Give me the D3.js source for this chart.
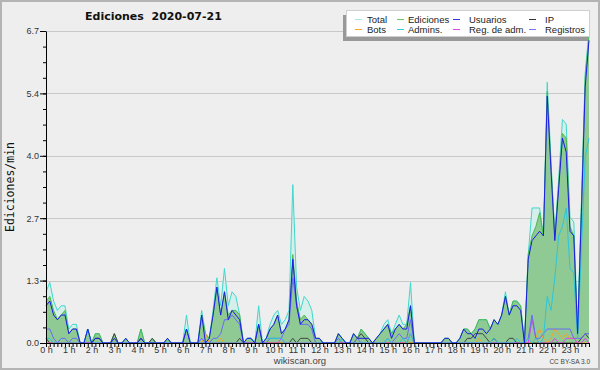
<!DOCTYPE html>
<meta charset="utf-8">
<style>
body { margin: 0; background: #fff; }
svg { display: block; font-family: "Liberation Sans", Arial, sans-serif; }
.grid line { stroke: #c8c8c8; stroke-width: 1px; }
.axis path, .axis line { stroke: #000; }
.axis text { fill: #333; font-size: 9px; font-family: "Liberation Sans", Arial, sans-serif; }
.series { fill: none; stroke-width: 1px; stroke-linejoin: round; }
</style>
<svg width="600" height="370"></svg>
<script src="https://cdn.jsdelivr.net/npm/d3@7"></script>
<script>

// one value every 10 minutes, 144 per day (edits per minute)
var hourLabels = ["0 h","1 h","2 h","3 h","4 h","5 h","6 h","7 h","8 h","9 h","10 h","11 h",
                  "12 h","13 h","14 h","15 h","16 h","17 h","18 h","19 h","20 h","21 h","22 h","23 h"];
var yTicks = [0, 1.34, 2.68, 4.02, 5.36, 6.7];
var yTickLabels = ["0.0", "1.3", "2.7", "4.0", "5.4", "6.7"];
var seriesNames = ["Total", "Ediciones", "Usuarios", "IP", "Bots", "Admins.", "Reg. de adm.", "Registros"];

var total = [
  1.1, 1.3, 0.9, 0.7, 0.8, 0.8,   0.3, 0.4, 0.4, 0, 0, 0.3,
  0, 0.2, 0.2, 0, 0, 0,           0.2, 0, 0, 0.1, 0, 0,
  0, 0.3, 0, 0, 0.1, 0,           0, 0, 0.1, 0, 0, 0,
  0, 0.6, 0, 0, 0, 0.7,           0.2, 0.1, 0.7, 1.4, 0.8, 1.6,
  0.8, 1.1, 1.0, 0.6, 0, 0.1,     0.1, 0, 0.8, 0, 0.1, 0.4,
  0.6, 0.7, 0.4, 0.5, 0.7, 3.4,   1.2, 0.7, 1.0, 0.9, 0.7, 0.1,
  0.1, 0, 0, 0, 0, 0.2,           0.1, 0, 0, 0.2, 0.1, 0.3,
  0.2, 0.1, 0, 0.1, 0.2, 0.4,     0.5, 0.2, 0.4, 0.6, 0.4, 0.4,
  1.3, 0, 0, 0, 0, 0,             0, 0, 0, 0.1, 0.1, 0,
  0, 0.1, 0.3, 0.3, 0.2, 0.3,     0.5, 0.5, 0.5, 0.3, 0.5, 0.4,
  0.6, 1.1, 0.6, 0.9, 0.9, 0.8,   0, 1.9, 2.9, 2.9, 2.9, 2.3,
  5.6, 3.9, 2.3, 3.5, 4.8, 4.7,   2.7, 2.6, 0.3, 3.0, 5.8, 6.7
];
var edits = [
  0.9, 1.0, 0.7, 0.5, 0.6, 0.7,   0.2, 0.3, 0.3, 0, 0, 0.3,
  0, 0.2, 0.2, 0, 0, 0,           0.2, 0, 0, 0.1, 0, 0,
  0, 0.3, 0, 0, 0.1, 0,           0, 0, 0.1, 0, 0, 0,
  0, 0.3, 0, 0, 0, 0.6,           0.2, 0.1, 0.6, 1.2, 0.6, 1.1,
  0.6, 0.7, 0.7, 0.6, 0, 0.1,     0.1, 0, 0.4, 0, 0.1, 0.3,
  0.4, 0.6, 0.2, 0.3, 0.5, 1.9,   0.9, 0.5, 0.6, 0.5, 0.4, 0.1,
  0.1, 0, 0, 0, 0, 0.2,           0.1, 0, 0, 0.2, 0.1, 0.3,
  0.2, 0.1, 0, 0.1, 0.2, 0.3,     0.4, 0.2, 0.3, 0.4, 0.3, 0.4,
  0.8, 0, 0, 0, 0, 0,             0, 0, 0, 0.1, 0.1, 0,
  0, 0.1, 0.3, 0.3, 0.2, 0.3,     0.5, 0.5, 0.5, 0.3, 0.5, 0.4,
  0.6, 1.0, 0.6, 0.9, 0.9, 0.8,   0, 1.9, 2.3, 2.5, 2.8, 2.3,
  5.4, 3.8, 2.3, 3.4, 4.5, 4.4,   2.5, 2.3, 0.2, 2.9, 5.7, 6.6
];
var users = [
  0.8, 0.9, 0.6, 0.5, 0.6, 0.6,   0.2, 0.3, 0.3, 0, 0, 0.3,
  0, 0.1, 0.1, 0, 0, 0,           0.1, 0, 0, 0.1, 0, 0,
  0, 0.1, 0, 0, 0, 0,             0, 0, 0.1, 0, 0, 0,
  0, 0.3, 0, 0, 0, 0.6,           0, 0.1, 0.6, 1.2, 0.6, 1.1,
  0.5, 0.7, 0.6, 0.5, 0, 0.1,     0.1, 0, 0.4, 0, 0.1, 0.3,
  0.4, 0.6, 0.2, 0.3, 0.5, 1.8,   0.8, 0.4, 0.5, 0.5, 0.4, 0.1,
  0.1, 0, 0, 0, 0, 0.2,           0.1, 0, 0, 0.2, 0.1, 0.1,
  0.1, 0.1, 0, 0.1, 0.2, 0.3,     0.4, 0.1, 0.3, 0.4, 0.3, 0.3,
  0.8, 0, 0, 0, 0, 0,             0, 0, 0, 0.1, 0.1, 0,
  0, 0.1, 0.3, 0.2, 0.2, 0.1,     0.3, 0.3, 0.2, 0.3, 0.5, 0.4,
  0.6, 1.0, 0.6, 0.8, 0.8, 0.7,   0, 1.8, 2.2, 2.3, 2.4, 2.3,
  5.3, 3.7, 2.2, 3.3, 4.4, 4.1,   2.4, 2.3, 0.2, 2.8, 5.5, 6.5
];
var ip = [
  0.1, 0, 0, 0, 0, 0,   0, 0, 0, 0, 0, 0,
  0, 0.1, 0.1, 0, 0, 0, 0.2, 0, 0, 0, 0, 0,
  0, 0.1, 0, 0, 0.1, 0, 0, 0, 0, 0, 0, 0,
  0, 0, 0, 0, 0, 0,     0, 0, 0, 0, 0, 0,
  0, 0, 0, 0.1, 0, 0,   0, 0, 0, 0, 0, 0,
  0, 0, 0, 0, 0, 0.1,   0, 0.1, 0.1, 0.1, 0, 0,
  0, 0, 0, 0, 0, 0,     0, 0, 0, 0, 0.1, 0.2,
  0.1, 0, 0, 0, 0, 0,   0, 0, 0, 0, 0, 0,
  0, 0, 0, 0, 0, 0,     0, 0, 0, 0, 0, 0,
  0, 0, 0, 0.1, 0.1, 0.2, 0.2, 0.2, 0.1, 0, 0.1, 0,
  0, 0, 0.1, 0.1, 0, 0, 0, 0, 0, 0, 0, 0,
  0, 0, 0, 0, 0, 0,     0, 0, 0, 0.1, 0.2, 0.1
];
var bots = [
  0, 0, 0, 0, 0, 0,     0, 0, 0, 0, 0, 0,
  0, 0, 0, 0, 0, 0,     0, 0, 0, 0, 0, 0,
  0, 0, 0, 0, 0, 0,     0, 0, 0, 0, 0, 0,
  0, 0, 0, 0, 0, 0,     0.2, 0, 0, 0, 0.1, 0,
  0, 0, 0, 0, 0, 0,     0, 0, 0, 0, 0, 0,
  0, 0, 0, 0, 0, 0,     0, 0, 0, 0, 0, 0,
  0, 0, 0, 0, 0, 0,     0, 0, 0, 0, 0, 0,
  0, 0, 0, 0, 0, 0,     0, 0, 0, 0, 0, 0,
  0, 0, 0, 0, 0, 0,     0, 0, 0, 0, 0, 0,
  0, 0, 0, 0, 0, 0,     0.1, 0, 0, 0, 0, 0,
  0, 0, 0, 0, 0, 0,     0, 0, 0, 0.1, 0.3, 0.1,
  0, 0.1, 0.3, 0.2, 0.1, 0.2,   0.1, 0.1, 0, 0, 0, 0
];
var admins = [
  0.1, 0.1, 0, 0, 0, 0, 0, 0, 0, 0, 0, 0.3,
  0, 0, 0, 0, 0, 0,     0, 0, 0, 0, 0, 0,
  0, 0, 0, 0, 0, 0,     0, 0, 0, 0, 0, 0,
  0, 0, 0, 0, 0, 0,     0, 0, 0, 0, 0, 0,
  0, 0, 0, 0, 0, 0.1,   0.1, 0, 0, 0, 0.1, 0.1,
  0.1, 0.1, 0.1, 0, 0, 0, 0, 0, 0, 0, 0, 0,
  0, 0, 0, 0, 0, 0,     0.1, 0, 0, 0, 0, 0,
  0, 0, 0, 0, 0, 0,     0.1, 0, 0, 0, 0.1, 0,
  0.2, 0, 0, 0, 0, 0,   0, 0, 0, 0, 0, 0,
  0, 0, 0, 0, 0, 0,     0, 0, 0, 0, 0.1, 0,
  0, 0, 0, 0, 0.1, 0,   0, 0.1, 0, 0.1, 0, 0.1,
  1.0, 0.7, 1.4, 2.3, 2.5, 2.9,  1.6, 1.5, 0.1, 2.0, 4.0, 4.4
];
var regAdm = [
  0, 0, 0, 0, 0, 0,     0, 0, 0, 0, 0, 0,
  0, 0, 0, 0, 0, 0,     0, 0, 0, 0, 0, 0,
  0, 0, 0, 0, 0, 0,     0, 0, 0, 0, 0, 0,
  0, 0, 0, 0, 0, 0,     0, 0, 0, 0, 0, 0,
  0, 0, 0, 0, 0, 0,     0, 0, 0, 0, 0, 0,
  0, 0, 0.1, 0, 0, 0,   0, 0, 0, 0, 0, 0,
  0, 0, 0, 0, 0, 0,     0, 0, 0, 0, 0, 0,
  0, 0, 0, 0, 0, 0,     0, 0, 0, 0, 0, 0,
  0.2, 0, 0, 0, 0, 0,   0, 0, 0, 0, 0, 0,
  0, 0, 0, 0, 0, 0,     0, 0, 0, 0, 0, 0,
  0, 0, 0, 0, 0, 0,     0, 0, 0.5, 0.1, 0, 0,
  0, 0, 0.1, 0, 0, 0.1, 0.1, 0.1, 0, 0, 0.1, 0
];
var logs = [
  0.3, 0.3, 0.1, 0, 0.1, 0.1,   0, 0.1, 0.1, 0, 0, 0,
  0, 0, 0, 0, 0, 0,     0, 0, 0, 0, 0, 0,
  0, 0, 0, 0, 0, 0,     0, 0, 0, 0, 0, 0,
  0, 0.3, 0, 0, 0, 0.1, 0, 0, 0.1, 0.1, 0.2, 0.5,
  0.5, 0.6, 0.5, 0.4, 0, 0,     0, 0, 0.4, 0, 0, 0.1,
  0.1, 0.1, 0.1, 0.3, 0.4, 1.4, 0.8, 0.4, 0.4, 0.4, 0.3, 0,
  0, 0, 0, 0, 0, 0.1,   0, 0, 0, 0, 0.1, 0,
  0, 0, 0, 0, 0, 0,     0.1, 0, 0.1, 0.2, 0.1, 0.1,
  0.5, 0, 0, 0, 0, 0,   0, 0, 0, 0, 0, 0,
  0, 0, 0, 0, 0, 0,     0, 0, 0, 0, 0, 0,
  0, 0, 0, 0, 0, 0,     0, 0.1, 0.6, 0.1, 0.1, 0.2,
  0.3, 0.3, 0.3, 0.3, 0.3, 0.3, 0.3, 0.1, 0.1, 0.1, 0.2, 0.2
];

var lineColors   = ["#3fd8cc", "#4cb84c", "#1c1ce6", "#444444", "#ffa020", "#2cc6dc", "#dd40ee", "#6a6af8"];
var legendColors = ["#a8e8e4", "#66cc66", "#3333ee", "#333333", "#ffa31a", "#33ccdd", "#dd44ee", "#7777ff"];

var svg = d3.select("svg"),
    width = +svg.attr("width"),
    height = +svg.attr("height");

var plotLeft = 46, plotRight = 589, plotTop = 31, plotBottom = 343;

var x = d3.scaleLinear().domain([0, total.length - 1]).range([plotLeft, plotRight]);
var y = d3.scaleLinear().domain([0, 6.7]).range([plotBottom, plotTop]);

// background + frame
svg.append("rect").attr("width", width).attr("height", height).attr("fill", "#eeeeee");
svg.append("rect").attr("x", 1).attr("y", 1).attr("width", width - 2).attr("height", height - 2)
    .attr("fill", "none").attr("stroke", "#b4b4b4").attr("stroke-width", 2);

// grid
svg.append("g").attr("class", "grid")
  .selectAll("line").data(yTicks.slice(1)).enter().append("line")
    .attr("x1", plotLeft).attr("x2", plotRight)
    .attr("y1", function(d) { return Math.round(y(d)) + 0.5; })
    .attr("y2", function(d) { return Math.round(y(d)) + 0.5; });

// areas
var area = function(vals) {
  return d3.area().x(function(d, i) { return x(i); }).y0(y(0)).y1(function(d) { return y(d); })(vals);
};
svg.append("path").attr("d", area(total)).attr("fill", "#d5efeb");
svg.append("path").attr("d", area(edits)).attr("fill", "#8fc993");

// lines
var line = d3.line().x(function(d, i) { return x(i); }).y(function(d) { return y(d); });
var series = [total, edits, users, ip, bots, admins, regAdm, logs];
var order = [0, 1, 3, 4, 6, 7, 5, 2];
order.forEach(function(k) {
  svg.append("path")
      .attr("class", "series")
      .attr("d", line(series[k]))
      .attr("stroke", lineColors[k])
      .attr("stroke-width", k === 2 ? 1.4 : 1);
});

// axes
var xAxis = d3.axisBottom(x)
    .tickValues(d3.range(total.length))
    .tickSize(4).tickSizeOuter(0).tickPadding(0)
    .tickFormat(function(i) { return i % 6 ? "" : hourLabels[i / 6]; });
svg.append("g").attr("class", "axis")
    .attr("transform", "translate(0," + plotBottom + ")")
    .call(xAxis);

var yAxis = d3.axisLeft(y)
    .tickValues(yTicks)
    .tickSize(6).tickSizeOuter(0).tickPadding(1)
    .tickFormat(function(d, i) { return yTickLabels[i]; });
svg.append("g").attr("class", "axis")
    .attr("transform", "translate(" + plotLeft + ",0)")
    .call(yAxis);

svg.append("g").attr("class", "axis")
    .attr("transform", "translate(" + plotLeft + ",0)")
    .call(d3.axisLeft(y).tickValues(d3.range(0, 21).map(function(k) { return k * 0.335; }))
      .tickSize(3).tickSizeOuter(0).tickFormat(""))
    .select(".domain").remove();

// titles
svg.append("text")
    .attr("x", 85).attr("y", 20)
    .attr("font-family", "DejaVu Sans").attr("font-weight", "bold").attr("font-size", 11)
    .attr("fill", "#111")
    .style("white-space", "pre")
    .text("Ediciones  2020-07-21");

svg.append("text")
    .attr("transform", "translate(14," + ((plotTop + plotBottom) / 2) + ") rotate(-90)")
    .attr("text-anchor", "middle")
    .attr("font-family", "DejaVu Sans Mono").attr("font-size", 11.5)
    .attr("fill", "#111")
    .text("Ediciones/min");

svg.append("text")
    .attr("x", 300).attr("y", 364).attr("text-anchor", "middle")
    .attr("font-size", 9.5).attr("fill", "#444")
    .text("wikiscan.org");

svg.append("text")
    .attr("x", 590).attr("y", 364).attr("text-anchor", "end")
    .attr("font-size", 6.5).attr("fill", "#444")
    .text("CC BY-SA 3.0");

// legend
var legendCols = [{line: 355, text: 367}, {line: 397, text: 408}, {line: 453, text: 469}, {line: 529, text: 545}];
var legendRows = [19.5, 29.5];
svg.append("rect").attr("x", 343).attr("y", 15).attr("width", 245).attr("height", 26).attr("fill", "#999");
svg.append("rect").attr("x", 346.5).attr("y", 10.5).attr("width", 243).attr("height", 26)
    .attr("fill", "#fff").attr("stroke", "#cfcfcf");

var items = svg.append("g").selectAll("g").data(seriesNames).enter().append("g")
    .attr("transform", function(d, i) {
      return "translate(0," + legendRows[Math.floor(i / 4)] + ")";
    });
items.append("line")
    .attr("x1", function(d, i) { return legendCols[i % 4].line; })
    .attr("x2", function(d, i) { return legendCols[i % 4].line + 7; })
    .attr("stroke", function(d, i) { return legendColors[i]; });
items.append("text")
    .attr("x", function(d, i) { return legendCols[i % 4].text; })
    .attr("y", 3.2)
    .attr("font-size", 9.5).attr("fill", "#222")
    .text(function(d) { return d; });

</script>
